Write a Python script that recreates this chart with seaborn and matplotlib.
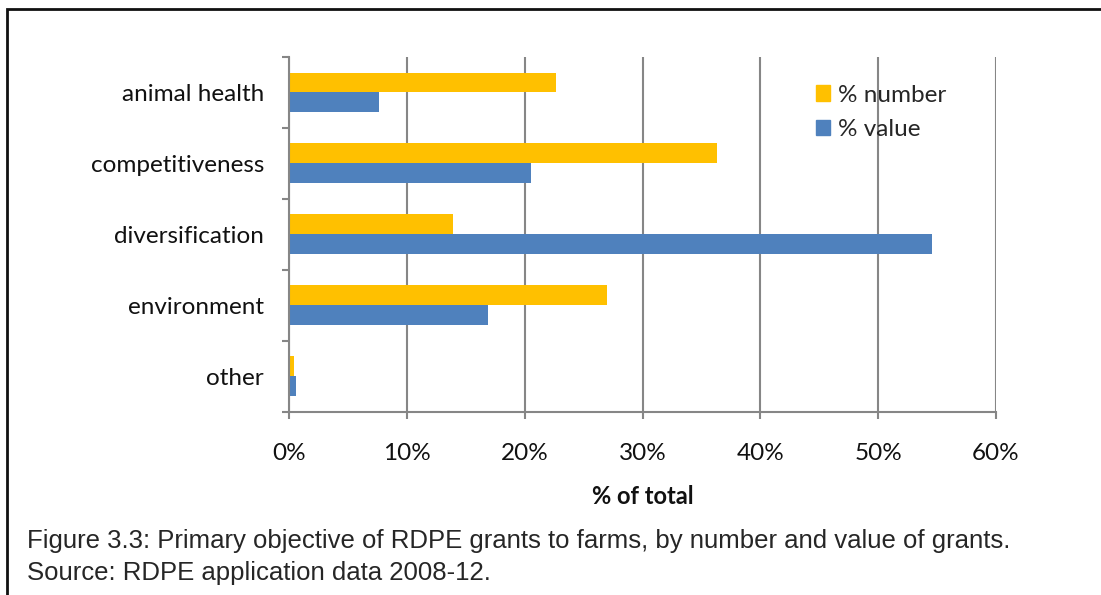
import pandas as pd
import matplotlib.pyplot as plt
import seaborn as sns
from matplotlib.patches import Rectangle, Patch
from matplotlib.ticker import FixedLocator, PercentFormatter

# data
objectives = ['animal health', 'competitiveness', 'diversification', 'environment', 'other']
pct_number = [22.7, 36.3, 13.9, 27.0, 0.4]
pct_value = [7.6, 20.5, 54.6, 16.9, 0.6]
series_names = ['% number', '% value']
series_colors = ['#FFC000', '#4F81BD']

df = pd.DataFrame({
    'objective': objectives * 2,
    'series': [series_names[0]] * len(objectives) + [series_names[1]] * len(objectives),
    'pct': pct_number + pct_value,
})

sns.set_style('white')
plt.rcParams['font.family'] = ['Lato', 'DejaVu Sans']

fig = plt.figure(figsize=(11.01, 5.95), dpi=100)
ax = fig.add_axes([289 / 1101, 1 - 411.5 / 595, (996 - 289) / 1101, (411.5 - 57) / 595])

sns.barplot(data=df, y='objective', x='pct', hue='series', order=objectives,
            hue_order=series_names, palette=series_colors, orient='h',
            width=0.56, linewidth=0, saturation=1, ax=ax, legend=False)

ax.set_xlim(0, 60)
ax.set_ylim(4.5, -0.5)
ax.xaxis.set_major_locator(FixedLocator([0, 10, 20, 30, 40, 50, 60]))
ax.xaxis.set_major_formatter(PercentFormatter(decimals=0))
ax.grid(axis='x', color='#868686', linewidth=1.5)
ax.set_axisbelow(True)

# category ticks sit between groups, labels at group centres
ax.yaxis.set_major_locator(FixedLocator([-0.5, 0.5, 1.5, 2.5, 3.5, 4.5]))
ax.yaxis.set_major_formatter(plt.NullFormatter())
ax.yaxis.set_minor_locator(FixedLocator(range(len(objectives))))
ax.set_yticklabels(objectives, minor=True)
ax.tick_params(axis='y', which='major', length=5, width=1.5, color='#868686', left=True)
ax.tick_params(axis='y', which='minor', length=0, pad=18, labelsize=17.5, labelcolor='#111111')
ax.tick_params(axis='x', length=5, width=1.5, color='#868686', bottom=True, pad=18,
               labelsize=17.5, labelcolor='#111111')

for side in ['top', 'right']:
    ax.spines[side].set_visible(False)
for side in ['left', 'bottom']:
    ax.spines[side].set_color('#868686')
    ax.spines[side].set_linewidth(1.5)

ax.set_ylabel('')
ax.set_xlabel('% of total', fontsize=17, fontweight='bold', labelpad=15, color='#111111')

handles = [Patch(color=c, label=n) for c, n in zip(series_colors, series_names)]
fig.legend(handles=handles, loc='upper left', bbox_to_anchor=(806 / 1101, 1 - 75 / 595),
           frameon=False, fontsize=17.5, handlelength=0.6, handleheight=0.6,
           handletextpad=0.3, labelspacing=0.55, borderaxespad=0)

# outer frame and caption
fig.patches.append(Rectangle((7 / 1101, -0.1), 1.2, 1 - 9 / 595 + 0.1,
                             transform=fig.transFigure, fill=False,
                             edgecolor='#111111', linewidth=2))
fig.text(27 / 1101, 1 - 541 / 595,
         'Figure 3.3: Primary objective of RDPE grants to farms, by number and value of grants.',
         fontsize=18.5, family='Liberation Sans', va='center', ha='left')
fig.text(27 / 1101, 1 - 573 / 595, 'Source: RDPE application data 2008-12.',
         fontsize=18.5, family='Liberation Sans', va='center', ha='left')

fig.savefig('out.png', dpi=100)
